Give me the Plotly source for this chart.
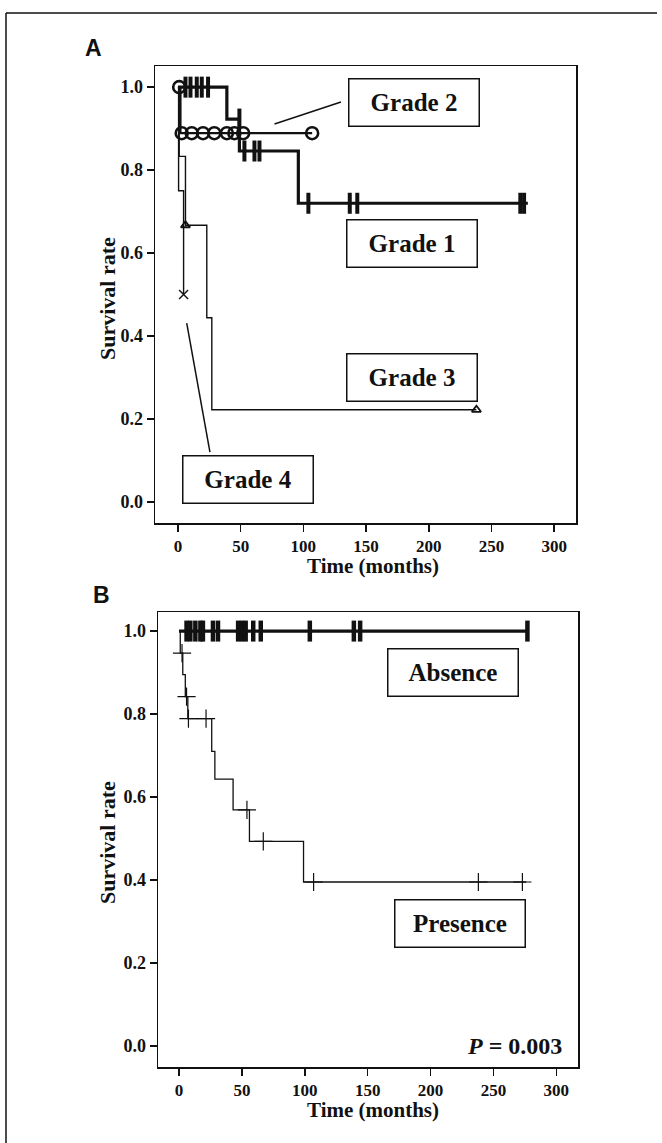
import plotly.graph_objects as go

W, H = 662, 1143

# ---------------- Panel A data (Kaplan-Meier by grade) ----------------
g1_t = [0, 39, 49, 96, 279]
g1_s = [1.0, 0.923, 0.846, 0.72, 0.72]
g1_cens_t = [6, 10, 15, 19, 24, 49, 53, 61, 65, 104, 137, 143, 273, 276]
g1_cens_s = [1.0, 1.0, 1.0, 1.0, 1.0, 0.923, 0.846, 0.846, 0.846, 0.72, 0.72, 0.72, 0.72, 0.72]

g2_t = [0, 2, 107]
g2_s = [1.0, 0.889, 0.889]
g2_cens_t = [1, 3, 11, 20, 29, 39, 45, 52, 107]
g2_cens_s = [1.0, 0.889, 0.889, 0.889, 0.889, 0.889, 0.889, 0.889, 0.889]

g3_t = [0, 1, 6, 23, 27, 238]
g3_s = [1.0, 0.833, 0.667, 0.444, 0.222, 0.222]
g3_cens_t = [6, 238]
g3_cens_s = [0.667, 0.222]

g4_t = [0, 0.5, 4.5]
g4_s = [1.0, 0.75, 0.5]
g4_cens_t = [4.5]
g4_cens_s = [0.5]

# ---------------- Panel B data ----------------
abs_t = [0, 277]
abs_s = [1.0, 1.0]
abs_cens_t = [6, 9, 13, 17, 19, 27, 31, 47, 50, 53, 59, 65, 104, 139, 144, 277]
abs_cens_s = [1.0] * len(abs_cens_t)

pre_t = [0, 1, 3, 5, 7, 26, 28.5, 43, 56, 99, 276]
pre_s = [1.0, 0.947, 0.895, 0.842, 0.789, 0.71, 0.643, 0.569, 0.493, 0.395, 0.395]
pre_cens_t = [2.4, 6, 7.5, 21.5, 54, 67, 107, 238, 273]
pre_cens_s = [0.947, 0.842, 0.789, 0.789, 0.569, 0.493, 0.395, 0.395, 0.395]

x_ticks = [0, 50, 100, 150, 200, 250, 300]
y_ticks = [0.0, 0.2, 0.4, 0.6, 0.8, 1.0]
y_ticklabels = ["0.0", "0.2", "0.4", "0.6", "0.8", "1.0"]

SERIF = "Liberation Serif"
SANS = "Liberation Sans"
BLK = "#111111"


def px(x):
    return x / W


def py(y):
    return 1 - y / H


fig = go.Figure()


def km(t, s, width, xa, ya):
    fig.add_trace(go.Scatter(x=t, y=s, mode="lines", line=dict(color=BLK, width=width, shape="hv"),
                             xaxis=xa, yaxis=ya, showlegend=False, hoverinfo="skip"))


def cens(t, s, symbol, size, lw, xa, ya):
    fig.add_trace(go.Scatter(x=t, y=s, mode="markers",
                             marker=dict(symbol=symbol, size=size, color=BLK,
                                         line=dict(color=BLK, width=lw)),
                             xaxis=xa, yaxis=ya, showlegend=False, hoverinfo="skip"))


# Panel A
km(g3_t, g3_s, 1.4, "x", "y")
km(g4_t, g4_s, 1.4, "x", "y")
km(g2_t, g2_s, 2.2, "x", "y")
km(g1_t, g1_s, 3.2, "x", "y")
cens(g1_cens_t, g1_cens_s, "line-ns", 15, 4, "x", "y")
cens(g2_cens_t, g2_cens_s, "circle-open", 12, 2.6, "x", "y")
cens(g3_cens_t, g3_cens_s, "triangle-up-open", 8, 1.8, "x", "y")
cens(g4_cens_t, g4_cens_s, "x-thin-open", 9, 1.4, "x", "y")

# Panel B
km(pre_t, pre_s, 1.3, "x2", "y2")
km(abs_t, abs_s, 3.2, "x2", "y2")
cens(abs_cens_t, abs_cens_s, "line-ns", 15, 4.5, "x2", "y2")
cens(pre_cens_t, pre_cens_s, "cross-thin-open", 13, 1.2, "x2", "y2")

xtickfont = dict(family=SERIF, size=17, color=BLK, weight="bold")
ytickfont = dict(family=SERIF, size=18, color=BLK, weight="bold")
axis_common = dict(showline=True, linecolor=BLK, linewidth=1.5, mirror=True,
                   ticks="outside", ticklen=7, tickwidth=1.5, tickcolor=BLK,
                   showgrid=False, zeroline=False, fixedrange=True)

fig.update_layout(
    width=W, height=H, autosize=False,
    margin=dict(l=0, r=0, t=0, b=0),
    paper_bgcolor="white", plot_bgcolor="white",
    xaxis=dict(domain=[px(155), px(576)], range=[-18.3, 317.4], anchor="y",
               tickvals=x_ticks, tickfont=xtickfont, **axis_common),
    yaxis=dict(domain=[py(523), py(66)], range=[-0.051, 1.051], anchor="x",
               tickvals=y_ticks, ticktext=y_ticklabels, tickfont=ytickfont, **axis_common),
    xaxis2=dict(domain=[px(158), px(578)], range=[-16.7, 317.2], anchor="y2",
                tickvals=x_ticks, tickfont=xtickfont, **axis_common),
    yaxis2=dict(domain=[py(1067), py(612)], range=[-0.051, 1.046], anchor="x2",
                tickvals=y_ticks, ticktext=y_ticklabels, tickfont=ytickfont, **axis_common),
)

annots = []


def box(text, x, y, xref, yref, w=127, h=44):
    annots.append(dict(text="<b>%s</b>" % text, x=x, y=y, xref=xref, yref=yref,
                       xanchor="center", yanchor="middle", showarrow=False,
                       width=w, height=h, align="center", valign="middle",
                       bordercolor=BLK, borderwidth=1.5, borderpad=1, bgcolor="white",
                       font=dict(family=SERIF, size=25, color=BLK)))


box("Grade 2", 188, 0.964, "x", "y")
box("Grade 1", 187, 0.622, "x", "y")
box("Grade 3", 187, 0.299, "x", "y")
box("Grade 4", 56, 0.053, "x", "y")
box("Absence", 218, 0.899, "x2", "y2")
box("Presence", 223, 0.295, "x2", "y2")

annots.append(dict(text="<b><i>P</i> = 0.003</b>", x=px(564), y=py(1046), xref="paper", yref="paper",
                   xanchor="right", yanchor="middle", showarrow=False,
                   font=dict(family=SERIF, size=24, color=BLK)))

# axis titles
for cy in (298, 842):
    annots.append(dict(text="<b>Survival rate</b>", x=px(107), y=py(cy), xref="paper", yref="paper",
                       xanchor="center", yanchor="middle", showarrow=False, textangle=-90,
                       font=dict(family=SERIF, size=22, color=BLK)))
for cx, cy in ((373, 566), (373, 1110)):
    annots.append(dict(text="<b>Time (months)</b>", x=px(cx), y=py(cy), xref="paper", yref="paper",
                       xanchor="center", yanchor="middle", showarrow=False,
                       font=dict(family=SERIF, size=21, color=BLK)))

# panel letters
annots.append(dict(text="<b>A</b>", x=px(93), y=py(48), xref="paper", yref="paper",
                   xanchor="center", yanchor="middle", showarrow=False,
                   font=dict(family=SANS, size=23, color=BLK)))
annots.append(dict(text="<b>B</b>", x=px(101), y=py(595), xref="paper", yref="paper",
                   xanchor="center", yanchor="middle", showarrow=False,
                   font=dict(family=SANS, size=23, color=BLK)))

fig.update_layout(annotations=annots)

shapes = [
    # leader lines
    dict(type="line", xref="x", yref="y", x0=77, y0=0.911, x1=130, y1=0.964,
         line=dict(color=BLK, width=1.5)),
    dict(type="line", xref="x", yref="y", x0=7, y0=0.431, x1=25.5, y1=0.12,
         line=dict(color=BLK, width=1.5)),
    # outer page frame (top and left)
    dict(type="line", xref="paper", yref="paper", x0=px(6), y0=py(13), x1=px(657), y1=py(13),
         line=dict(color=BLK, width=1.5)),
    dict(type="line", xref="paper", yref="paper", x0=px(6), y0=py(13), x1=px(6), y1=py(1143),
         line=dict(color=BLK, width=1.5)),
]
fig.update_layout(shapes=shapes)

fig.write_html("out.html", config={"displayModeBar": False, "staticPlot": True},
               post_script="document.body.style.margin='0';")
